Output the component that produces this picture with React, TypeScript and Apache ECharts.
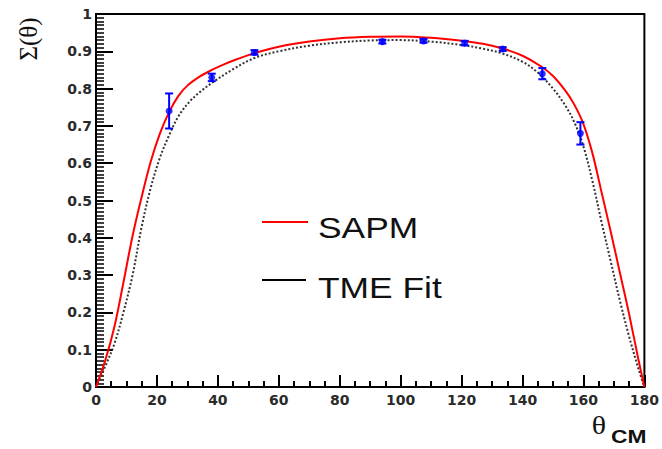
import React, { useEffect, useRef } from "react";
import * as echarts from "echarts";

// SAPM curve (red)
const sapmTheta = [0, 3, 6, 9, 12, 15, 18, 21, 24, 27, 30, 34, 38, 42, 46, 52, 60, 70, 80, 90, 100, 110, 120, 127, 134, 140, 146, 150, 154, 157, 160, 163, 166, 169, 172, 175, 178, 180];
const sapmSigma = [0, 0.07, 0.16, 0.28, 0.405, 0.51, 0.605, 0.68, 0.737, 0.78, 0.808, 0.832, 0.85, 0.865, 0.878, 0.895, 0.912, 0.926, 0.935, 0.939, 0.94, 0.936, 0.928, 0.92, 0.906, 0.888, 0.86, 0.834, 0.795, 0.757, 0.705, 0.625, 0.52, 0.415, 0.305, 0.195, 0.075, 0];

// TME Fit curve (black dotted)
const tmeTheta = [0, 3, 6, 9, 12, 15, 18, 21, 24, 27, 30.7, 34, 38, 45, 52, 60, 70, 80, 90, 100, 110, 120, 127, 133, 140, 145, 150, 154, 157, 160, 163, 166, 169, 172, 175, 178, 180];
const tmeSigma = [0, 0.055, 0.115, 0.2, 0.3, 0.43, 0.535, 0.615, 0.675, 0.725, 0.765, 0.79, 0.815, 0.852, 0.882, 0.9, 0.915, 0.924, 0.929, 0.93, 0.926, 0.917, 0.907, 0.895, 0.872, 0.843, 0.8, 0.755, 0.71, 0.645, 0.55, 0.44, 0.335, 0.23, 0.135, 0.05, 0];

// Measured points
const dataTheta = [24, 38, 52, 94, 107.5, 121, 133.5, 146.5, 159];
const dataSigma = [0.74, 0.83, 0.897, 0.926, 0.928, 0.922, 0.906, 0.84, 0.68];
const dataError = [0.047, 0.01, 0.006, 0.005, 0.005, 0.006, 0.005, 0.015, 0.03];

const xTickInterval = 20;
const yTickInterval = 0.1;

export default function App() {
  const ref = useRef<HTMLDivElement>(null);
  useEffect(() => {
    if (!ref.current) return;
    const chart = echarts.init(ref.current, null, { renderer: "svg" });
    const sapm = sapmTheta.map((t, i) => [t, sapmSigma[i]]);
    const tme = tmeTheta.map((t, i) => [t, tmeSigma[i]]);
    const pts = dataTheta.map((t, i) => [t, dataSigma[i]]);
    const errs = dataTheta.map((t, i) => [t, dataSigma[i] - dataError[i], dataSigma[i] + dataError[i]]);
    const labelFont = {
      fontFamily: "DejaVu Sans",
      fontWeight: "bold" as const,
      fontSize: 14,
      color: "#2a2a2a",
    };
    chart.setOption({
      animation: false,
      backgroundColor: "#ffffff",
      grid: {
        left: 96,
        right: 17,
        top: 14,
        bottom: 62,
        show: true,
        borderColor: "#000",
        borderWidth: 2,
        backgroundColor: "transparent",
      },
      xAxis: {
        type: "value",
        min: 0,
        max: 180,
        interval: xTickInterval,
        axisLine: { show: true, onZero: false, lineStyle: { color: "#000", width: 2 } },
        axisTick: { show: true, inside: true, length: 12, lineStyle: { color: "#000", width: 2 } },
        minorTick: { show: true, splitNumber: 4, length: 6, lineStyle: { color: "#000", width: 2 } },
        splitLine: { show: false },
        axisLabel: { ...labelFont, margin: 6 },
      },
      yAxis: {
        type: "value",
        min: 0,
        max: 1,
        interval: yTickInterval,
        axisLine: { show: true, onZero: false, lineStyle: { color: "#000", width: 2 } },
        axisTick: { show: true, inside: true, length: 17, lineStyle: { color: "#000", width: 2 } },
        minorTick: { show: true, splitNumber: 10, length: 8, lineStyle: { color: "#000", width: 1.5 } },
        splitLine: { show: false },
        axisLabel: {
          ...labelFont,
          margin: 4,
          formatter: (v: number) => String(parseFloat(v.toFixed(1))),
        },
      },
      series: [
        {
          name: "TME Fit",
          type: "line",
          data: tme,
          symbol: "none",
          smooth: 0.35,
          lineStyle: { color: "#333", width: 2, type: [2, 2] },
          z: 2,
        },
        {
          name: "SAPM",
          type: "line",
          data: sapm,
          symbol: "none",
          smooth: 0.35,
          lineStyle: { color: "#ff0000", width: 2 },
          z: 3,
        },
        {
          name: "errors",
          type: "custom",
          data: errs,
          z: 4,
          renderItem: (params: any, api: any) => {
            const x = api.value(0);
            const lo = api.coord([x, api.value(1)]);
            const hi = api.coord([x, api.value(2)]);
            const cw = 4;
            const style = { stroke: "#0000ff", lineWidth: 2 };
            return {
              type: "group",
              children: [
                { type: "line", shape: { x1: lo[0], y1: lo[1], x2: hi[0], y2: hi[1] }, style },
                { type: "line", shape: { x1: lo[0] - cw, y1: lo[1], x2: lo[0] + cw, y2: lo[1] }, style },
                { type: "line", shape: { x1: hi[0] - cw, y1: hi[1], x2: hi[0] + cw, y2: hi[1] }, style },
              ],
            };
          },
        },
        {
          name: "data",
          type: "scatter",
          data: pts,
          symbol: "circle",
          symbolSize: 7,
          itemStyle: { color: "#0000ff" },
          z: 5,
        },
      ],
      graphic: [
        {
          type: "line",
          shape: { x1: 262, y1: 222, x2: 308, y2: 222 },
          style: { stroke: "#ff0000", lineWidth: 2 },
        },
        {
          type: "text",
          x: 318,
          y: 228,
          scaleX: 1.22,
          style: {
            text: "SAPM",
            fontFamily: "Liberation Sans",
            fontSize: 29,
            fill: "#111",
            verticalAlign: "middle",
          },
        },
        {
          type: "line",
          shape: { x1: 262, y1: 280, x2: 306, y2: 280 },
          style: { stroke: "#000", lineWidth: 2 },
        },
        {
          type: "text",
          x: 318,
          y: 288,
          scaleX: 1.22,
          style: {
            text: "TME Fit",
            fontFamily: "Liberation Sans",
            fontSize: 29,
            fill: "#111",
            verticalAlign: "middle",
          },
        },
        {
          type: "text",
          x: 28,
          y: 39,
          rotation: Math.PI / 2,
          style: {
            text: "Σ(θ)",
            fontFamily: "Liberation Serif",
            fontSize: 25,
            fill: "#111",
            align: "center",
            verticalAlign: "middle",
          },
        },
        {
          type: "text",
          x: 599,
          y: 425,
          scaleX: 1.15,
          style: {
            text: "θ",
            fontFamily: "Liberation Serif",
            fontSize: 26,
            fill: "#111",
            align: "center",
            verticalAlign: "middle",
          },
        },
        {
          type: "text",
          x: 611,
          y: 436,
          scaleX: 1.2,
          style: {
            text: "CM",
            fontFamily: "Liberation Sans",
            fontWeight: "bold",
            fontSize: 19,
            fill: "#111",
            verticalAlign: "middle",
          },
        },
      ],
    });
    return () => chart.dispose();
  }, []);
  return <div ref={ref} style={{ width: 662, height: 449, position: "absolute", left: 0, top: 0 }} />;
}
